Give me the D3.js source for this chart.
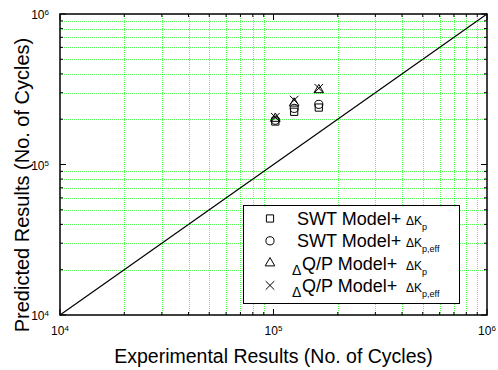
<!DOCTYPE html>
<html>
<head>
<meta charset="utf-8">
<script src="https://cdn.jsdelivr.net/npm/d3@7"></script>
<style>
  body { margin: 0; background: #fff; }
  svg { display: block; font-family: Arial, "Liberation Sans", sans-serif; }
</style>
</head>
<body>
<svg id="chart" width="498" height="370"></svg>
<script>
// data
const experimental = [1.02e5, 1.25e5, 1.63e5];
const swtKp = [1.93e5, 2.24e5, 2.39e5];
const swtKpEff = [1.97e5, 2.36e5, 2.51e5];
const dqpKp = [2.02e5, 2.55e5, 3.13e5];
const dqpKpEff = [2.06e5, 2.68e5, 3.21e5];
const diagonal = [1e4, 1e6];
const decades = [1e4, 1e5, 1e6];
const minorSteps = [2, 3, 4, 5, 6, 7, 8, 9];

const svg = d3.select('#chart');
const plotLeft = 60, plotRight = 487, plotTop = 14, plotBottom = 315;

const x = d3.scaleLog().domain([1e4, 1e6]).range([plotLeft, plotRight]);
const y = d3.scaleLog().domain([1e4, 1e6]).range([plotBottom, plotTop]);

const minors = [];
decades.slice(0, -1).forEach(function(d) {
  minorSteps.forEach(function(m) { minors.push(d * m); });
});

// grid (dotted green, minor positions only)
const grid = svg.append('g').attr('class', 'grid')
  .attr('stroke', '#00ff00')
  .attr('stroke-opacity', 0.65)
  .attr('stroke-width', 1)
  .attr('stroke-dasharray', '1,1')
  .attr('shape-rendering', 'crispEdges');
grid.selectAll('.gx').data(minors).enter().append('line')
  .attr('x1', d => Math.round(x(d)) + 0.5).attr('x2', d => Math.round(x(d)) + 0.5)
  .attr('y1', plotTop).attr('y2', plotBottom);
grid.selectAll('.gy').data(minors).enter().append('line')
  .attr('y1', d => Math.round(y(d)) + 0.5).attr('y2', d => Math.round(y(d)) + 0.5)
  .attr('x1', plotLeft).attr('x2', plotRight);

// y = x line
svg.append('line')
  .attr('x1', x(diagonal[0])).attr('y1', y(diagonal[0]))
  .attr('x2', x(diagonal[1])).attr('y2', y(diagonal[1]))
  .attr('stroke', '#000').attr('stroke-width', 1.2);

// ticks, inward on all sides
const ticks = svg.append('g').attr('stroke', '#000').attr('stroke-width', 1);
function tickSet(vals, len) {
  vals.forEach(function(v) {
    const px = x(v), py = y(v);
    ticks.append('line').attr('x1', px).attr('x2', px).attr('y1', plotBottom).attr('y2', plotBottom - len);
    ticks.append('line').attr('x1', px).attr('x2', px).attr('y1', plotTop).attr('y2', plotTop + len);
    ticks.append('line').attr('y1', py).attr('y2', py).attr('x1', plotLeft).attr('x2', plotLeft + len);
    ticks.append('line').attr('y1', py).attr('y2', py).attr('x1', plotRight).attr('x2', plotRight - len);
  });
}
tickSet(minors, 3);
tickSet(decades, 6);

// frame
svg.append('rect')
  .attr('x', plotLeft).attr('y', plotTop)
  .attr('width', plotRight - plotLeft).attr('height', plotBottom - plotTop)
  .attr('fill', 'none').attr('stroke', '#000').attr('stroke-width', 1.5);

// tick labels
function powLabel(sel, d) {
  const e = Math.round(Math.log10(d));
  sel.append('tspan').text('10');
  sel.append('tspan').attr('font-size', 8).attr('dy', -4).text(e);
}
svg.selectAll('.xl').data(decades).enter().append('text')
  .attr('x', d => x(d)).attr('y', 335)
  .attr('text-anchor', 'middle').attr('font-size', 12)
  .each(function(d) { powLabel(d3.select(this), d); });
svg.selectAll('.yl').data(decades).enter().append('text')
  .attr('x', 49).attr('y', d => y(d) + 5)
  .attr('text-anchor', 'end').attr('font-size', 12)
  .each(function(d) { powLabel(d3.select(this), d); });

// axis titles
svg.append('text')
  .attr('x', (plotLeft + plotRight) / 2).attr('y', 363)
  .attr('text-anchor', 'middle').attr('font-size', 19.5)
  .text('Experimental Results (No. of Cycles)');
svg.append('text')
  .attr('transform', 'translate(29,185) rotate(-90)')
  .attr('text-anchor', 'middle').attr('font-size', 20)
  .text('Predicted Results (No. of Cycles)');

// markers
const sym = {
  square: d3.symbol().type(d3.symbolSquare).size(52),
  circle: d3.symbol().type(d3.symbolCircle).size(52),
  triangle: d3.symbol().type(d3.symbolTriangle).size(40),
  cross: d3.symbol().type(d3.symbolX).size(50)
};
const series = [
  { vals: swtKp, shape: 'square' },
  { vals: swtKpEff, shape: 'circle' },
  { vals: dqpKp, shape: 'triangle' },
  { vals: dqpKpEff, shape: 'cross' }
];
series.forEach(function(s) {
  svg.append('g').selectAll('path').data(s.vals).enter().append('path')
    .attr('d', sym[s.shape])
    .attr('transform', (d, i) => 'translate(' + x(experimental[i]) + ',' + y(d) + ')')
    .attr('fill', 'none').attr('stroke', '#000').attr('stroke-width', 1);
});

// legend
const lg = svg.append('g');
lg.append('rect')
  .attr('x', 243.5).attr('y', 205.5).attr('width', 216).attr('height', 98)
  .attr('fill', '#fff').attr('stroke', '#000').attr('stroke-width', 1);
const legendRows = [
  { shape: 'square', delta: false, name: 'SWT Model+', sub: 'p' },
  { shape: 'circle', delta: false, name: 'SWT Model+', sub: 'p,eff' },
  { shape: 'triangle', delta: true, name: 'Q/P Model+', sub: 'p' },
  { shape: 'cross', delta: true, name: 'Q/P Model+', sub: 'p,eff' }
];
legendRows.forEach(function(r, i) {
  const base = 225 + i * 22.3;
  lg.append('path').attr('d', sym[r.shape])
    .attr('transform', 'translate(270,' + (base - 6.5) + ')')
    .attr('fill', 'none').attr('stroke', '#000').attr('stroke-width', 1);
  if (r.delta) {
    lg.append('text').attr('x', 292).attr('y', base + 5).attr('font-size', 14).text('\u0394');
    lg.append('text').attr('x', 302).attr('y', base).attr('font-size', 18).text(r.name);
  } else {
    lg.append('text').attr('x', 297).attr('y', base).attr('font-size', 18).text(r.name);
  }
  const t = lg.append('text').attr('x', 406).attr('y', base).attr('font-size', 12);
  t.append('tspan').text('\u0394K');
  t.append('tspan').attr('font-size', 9).attr('dy', 5).text(r.sub);
});
</script>
</body>
</html>
